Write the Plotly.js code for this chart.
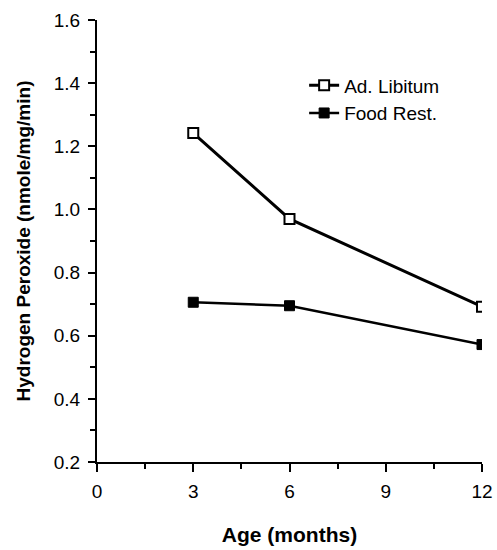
<!DOCTYPE html>
<html>
<head>
<meta charset="utf-8">
<script src="https://cdn.plot.ly/plotly-3.0.1.min.js"></script>
<style>html,body{margin:0;padding:0;background:#fff;}#chart{width:497px;height:550px;}</style>
</head>
<body>
<div id="chart"></div>
<script>
var ageMonths = [3, 6, 12];
var adLibitum = [1.242, 0.970, 0.692];
var foodRest = [0.706, 0.695, 0.572];
var seriesNames = ["Ad. Libitum", "Food Rest."];
var xTickVals = [0, 3, 6, 9, 12];
var xTickText = ["0", "3", "6", "9", "12"];

var font = "Liberation Sans, Arial, Helvetica, sans-serif";

var traces = [
  {
    x: ageMonths, y: adLibitum, name: seriesNames[0], type: "scatter", mode: "lines+markers",
    line: {color: "#000", width: 3},
    marker: {symbol: "square", size: 10, color: "#fff", line: {color: "#000", width: 2}}
  },
  {
    x: ageMonths, y: foodRest, name: seriesNames[1], type: "scatter", mode: "lines+markers",
    line: {color: "#000", width: 2.5},
    marker: {symbol: "square", size: 10, color: "#000", line: {color: "#000", width: 1}}
  }
];

var layout = {
  width: 497, height: 550,
  margin: {l: 97, r: 15, t: 20, b: 88},
  paper_bgcolor: "#fff", plot_bgcolor: "#fff",
  font: {family: font, color: "#000", size: 19},
  showlegend: true,
  legend: {x: 0.538, y: 0.895, xanchor: "left", yanchor: "top", bgcolor: "rgba(0,0,0,0)",
           font: {family: font, size: 19, color: "#000"}, itemwidth: 30, tracegroupgap: 0},
  xaxis: {
    range: [0, 12], showgrid: false, zeroline: false,
    showline: true, linecolor: "#000", linewidth: 2,
    tickmode: "array", tickvals: xTickVals, ticktext: xTickText,
    ticks: "outside", ticklen: 8, tickwidth: 2, tickcolor: "#000", ticklabelstandoff: 3,
    minor: {dtick: 1.5, tick0: 0, ticks: "outside", ticklen: 5, tickwidth: 2, tickcolor: "#000", showgrid: false},
    tickfont: {family: font, size: 19, color: "#000"},
    title: {text: "Age (months)", font: {family: font, size: 21, color: "#000", weight: "bold"}, standoff: 27},
    automargin: false
  },
  yaxis: {
    range: [0.2, 1.6], showgrid: false, zeroline: false,
    showline: true, linecolor: "#000", linewidth: 2,
    dtick: 0.2, tick0: 0.2, tickformat: ".1f",
    ticks: "outside", ticklen: 7, tickwidth: 2, tickcolor: "#000", ticklabelstandoff: 4,
    minor: {dtick: 0.1, tick0: 0.2, ticks: "outside", ticklen: 5, tickwidth: 2, tickcolor: "#000", showgrid: false},
    tickfont: {family: font, size: 19, color: "#000"},
    title: {text: "Hydrogen Peroxide (nmole/mg/min)", font: {family: font, size: 19, color: "#000", weight: "bold"}, standoff: 18},
    automargin: false
  }
};

Plotly.newPlot("chart", traces, layout, {displayModeBar: false, staticPlot: true});
</script>
</body>
</html>
